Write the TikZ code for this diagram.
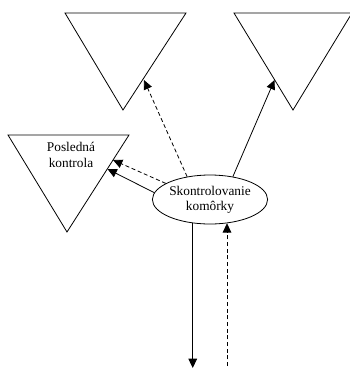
\documentclass[tikz,border=0pt]{standalone}
\usepackage{fontspec}
\setmainfont{Liberation Serif}
\usetikzlibrary{shapes.geometric,arrows.meta}

\begin{document}
\begin{tikzpicture}[x=0.75pt,y=-0.75pt,line width=0.6pt,
	>={Triangle[length=7pt,width=6.5pt]},
	txt/.style={align=center,font=\fontsize{10}{11.5}\selectfont,inner sep=0pt},
	dsh/.style={dashed,dash pattern=on 3pt off 2pt}]
	\useasboundingbox (0,0) rectangle (350,369);
	
	% triangles
	\draw (65,13)--(186,13)--(123,110)--cycle;
	\draw (234,13)--(352,13)--(293,110)--cycle;
	\draw (8,135)--(129,135)--(67,232)--cycle;
	\node[txt] (posl) at (71,155) {Posledná\\kontrola};
	
	\node[draw,ellipse,txt,minimum width=84.75pt,minimum height=36.75pt] (skon) at (210,199.5) {Skontrolovanie\\komôrky};
	
	\coordinate (t1) at (144,80);
	\coordinate (t2) at (274.5,80);
	\coordinate (t3a) at (113,160);
	\coordinate (t3b) at (107.5,169);
	\coordinate (dn) at (193,368);
	\coordinate (up) at (227,366);
	
	\draw[->,dsh] (skon.135) -- (t1);
	\draw[->] (skon.45) -- (t2);
	\draw[->,dsh] (skon.160) -- (t3a);
	\draw[->] (skon.173) -- (t3b);
	\draw[->] (skon.234) -- (skon.234 |- dn);
	\draw[->,dsh] (up) -- (up |- skon.306);
\end{tikzpicture}
\end{document}
